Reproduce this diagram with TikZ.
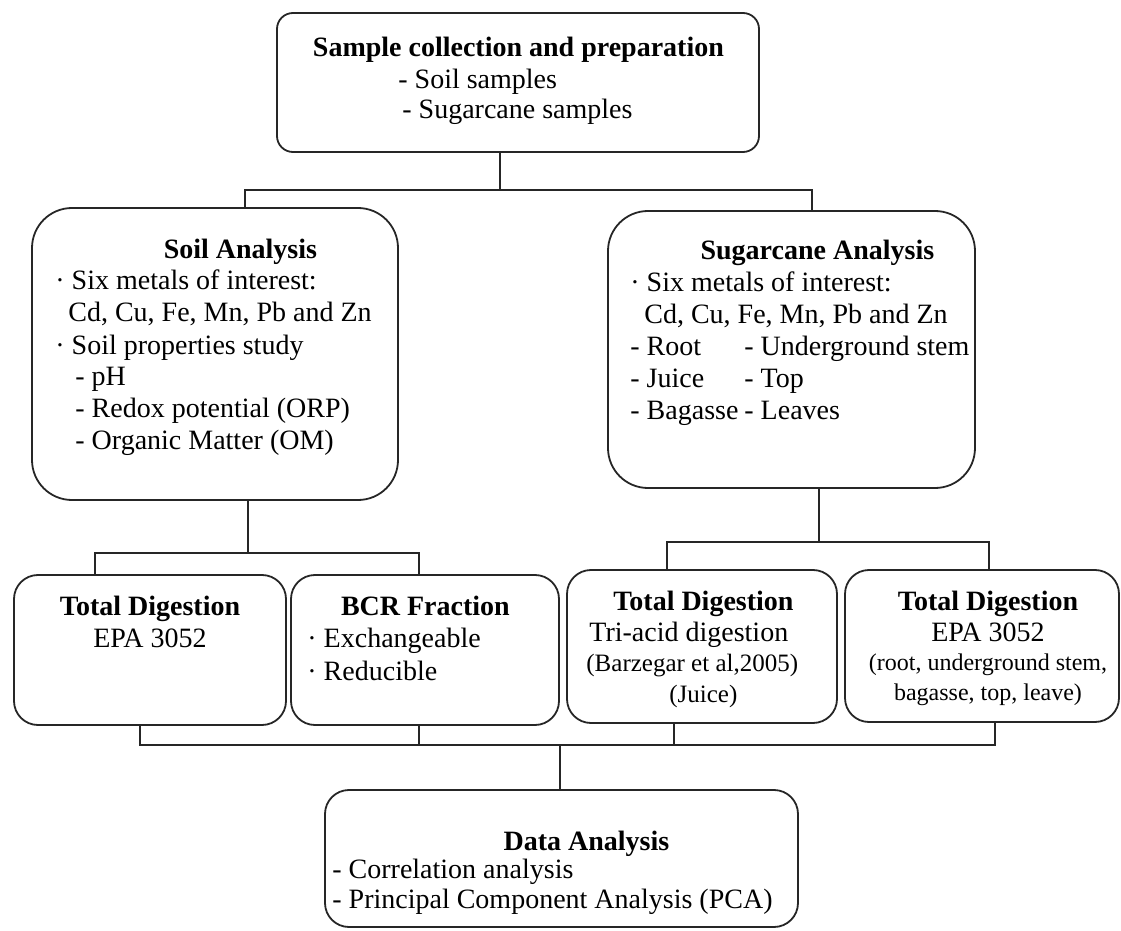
\documentclass[tikz,border=0pt]{standalone}
\usepackage{fontspec}
\setmainfont{Liberation Serif}

\begin{document}
\begin{tikzpicture}[
    x=0.5pt, y=-0.5pt,
    font=\fontsize{14}{16}\selectfont,
    box/.style={draw=black!85, line width=0.9pt, inner sep=0pt},
    bigbox/.style={box, rounded corners=20pt},
    smallbox/.style={box, rounded corners=12pt},
    txt/.style={inner sep=0pt, align=left,
                execute at begin node={\spaceskip=0pt\xspaceskip=0pt}},
    link/.style={draw=black!85, line width=0.9pt},
  ]
  \useasboundingbox (0,0) rectangle (1121,931);
  % boxes
  \node[box, rounded corners=8pt, minimum width=241pt, minimum height=69.5pt] (top) at (518,82.5) {};
  \node[bigbox, minimum width=183pt, minimum height=146pt]   (soil)  at (215,354)   {};
  \node[bigbox, minimum width=183.5pt, minimum height=138.5pt] (sugar) at (791.5,349.5) {};
  \node[smallbox, minimum width=136pt, minimum height=75pt]   (td1)   at (150,650)   {};
  \node[smallbox, minimum width=134pt, minimum height=75pt]   (bcr)   at (425,650)   {};
  \node[smallbox, minimum width=135pt, minimum height=76.5pt] (td2)   at (702,646.5) {};
  \node[smallbox, minimum width=137pt, minimum height=76pt]   (td3)   at (982,646)   {};
  \node[smallbox, minimum width=236.5pt, minimum height=68.5pt] (data) at (561.5,858.5) {};
  % texts
  \node[txt, text width=208pt, anchor=base west] (toptext) at (310,57) {%
    \makebox[\hsize]{\textbf{Sample collection and preparation}}\\
    \hspace*{44pt}- Soil samples\\[-1pt]
    \hspace*{46pt}- Sugarcane samples};
  \node[txt, text width=185pt, anchor=base west] (soiltext) at (55,258) {%
    \makebox[\hsize]{\textbf{Soil Analysis}}\\
    · Six metals of interest:\\
    \hspace*{6.5pt}Cd, Cu, Fe, Mn, Pb and Zn\\
    · Soil properties study\\
    \hspace*{10pt}- pH\\
    \hspace*{10pt}- Redox potential (ORP)\\
    \hspace*{10pt}- Organic Matter (OM)};
  \node[txt, text width=187pt, anchor=base west] (sugartext) at (630,260) {%
    \makebox[\hsize]{\textbf{Sugarcane Analysis}}\\
    · Six metals of interest:\\
    \hspace*{7pt}Cd, Cu, Fe, Mn, Pb and Zn\\
    \makebox[57pt][l]{- Root}- Underground stem\\
    \makebox[57pt][l]{- Juice}- Top\\
    \makebox[57pt][l]{- Bagasse}- Leaves};
  \node[txt, align=flush center, text width=130pt, anchor=base] (td1text) at (150,615) {%
    \textbf{Total Digestion}\\EPA 3052};
  \node[txt, text width=118pt, anchor=base west] (bcrtext) at (307,615) {%
    \makebox[\hsize]{\textbf{BCR Fraction}}\\
    · Exchangeable\\[0.5pt]
    · Reducible};
  \node[txt, text width=117pt, anchor=base west] (td2text) at (586,610) {%
    \makebox[\hsize]{\textbf{Total Digestion}}\\
    \hspace*{1.5pt}Tri-acid digestion\\[-1pt]
    {\fontsize{12.5}{16}\selectfont (Barzegar et al,2005)}\\[-0.5pt]
    \makebox[\hsize]{\fontsize{12.5}{16}\selectfont (Juice)}};
  \node[txt, align=flush center, text width=134pt, anchor=base] (td3text) at (988,610) {%
    \textbf{Total Digestion}\\EPA 3052\\[-2pt]
    {\fontsize{12}{16}\selectfont (root, underground stem,}\\[-1pt]
    {\fontsize{12}{16}\selectfont bagasse, top, leave)}};
  \node[txt, text width=254pt, anchor=base west] (datatext) at (332,850) {%
    \makebox[\hsize]{\textbf{Data Analysis}}\\[-2pt]
    - Correlation analysis\\[-1pt]
    - Principal Component Analysis (PCA)};
  % connectors
  \coordinate (split1) at (500,190);
  \coordinate (split2) at (248,553);
  \coordinate (split3) at (819,542);
  \coordinate (merge)  at (560,745);
  \draw[link] ([xshift=-9pt]top.south) -- (split1);
  \draw[link] ([xshift=15pt]soil.north) |- (split1) -| ([xshift=10.25pt]sugar.north);
  \draw[link] ([xshift=16.5pt]soil.south) -- (split2);
  \draw[link] ([xshift=-27.5pt]td1.north) |- (split2) -| ([xshift=-3pt]bcr.north);
  \draw[link] ([xshift=13.75pt]sugar.south) -- (split3);
  \draw[link] ([xshift=-17.5pt]td2.north) |- (split3) -| ([xshift=3.5pt]td3.north);
  \draw[link] ([xshift=-5pt]td1.south) |- (merge) -| ([xshift=6.5pt]td3.south);
  \draw[link] ([xshift=-3pt]bcr.south) |- (merge);
  \draw[link] ([xshift=-14pt]td2.south) |- (merge);
  \draw[link] (merge) -- (merge |- data.north);
\end{tikzpicture}
\end{document}
